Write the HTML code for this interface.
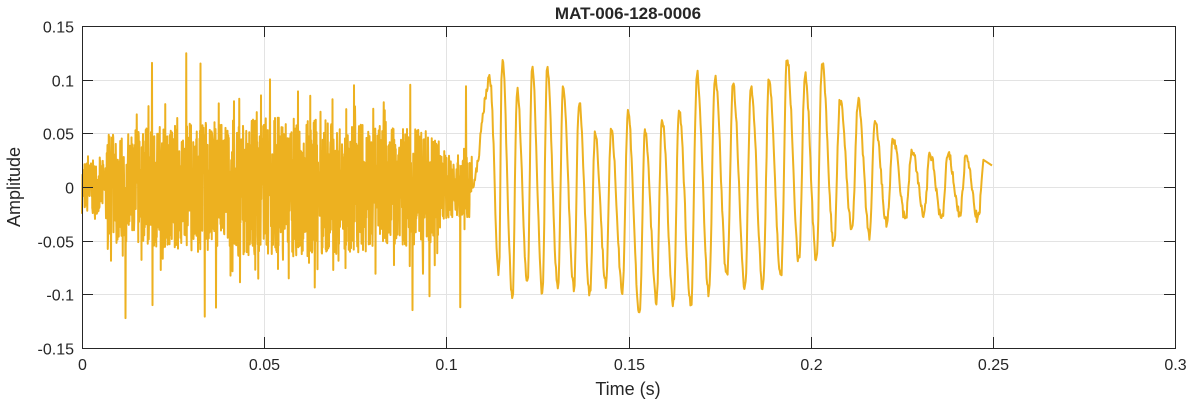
<!DOCTYPE html>
<html><head><meta charset="utf-8"><style>
body{margin:0;background:#fff;width:1188px;height:404px;overflow:hidden}
svg text{font-family:"Liberation Sans",sans-serif;fill:#262626}
</style></head><body>
<svg id="s" width="1188" height="404" xmlns="http://www.w3.org/2000/svg">
<rect x="82" y="26" width="1093" height="322" fill="#fff" stroke="none"/>
<g id="grid" stroke="#e3e3e3" stroke-width="1"></g>
<polyline id="w" fill="none" stroke="#EDB120" stroke-width="2" stroke-linejoin="round"/>
<rect x="82.5" y="26.5" width="1093" height="322" fill="none" stroke="#262626" stroke-width="1"/>
<g id="ticks" stroke="#262626"></g>
<g id="lab" font-size="16"></g>
<text x="628" y="19" font-size="17" font-weight="bold" text-anchor="middle">MAT-006-128-0006</text>
<text x="628" y="395" font-size="18" text-anchor="middle">Time (s)</text>
<text transform="translate(20,187) rotate(-90)" font-size="18" text-anchor="middle">Amplitude</text>
</svg>
<script>
var X0=82,X1=1175,Y0=187,YS=322/0.3;
function px(t){return X0+t/0.3*(X1-X0)}
function py(v){return Y0-v*YS}
var g=document.getElementById('grid'),tk=document.getElementById('ticks'),lb=document.getElementById('lab'),ns='http://www.w3.org/2000/svg';
function el(p,n,a,t){var e=document.createElementNS(ns,n);for(var k in a)e.setAttribute(k,a[k]);if(t!==undefined)e.textContent=t;p.appendChild(e)}
var xl=['0','0.05','0.1','0.15','0.2','0.25','0.3'];
for(var i=0;i<7;i++){var x=Math.round(px(i*0.05))+0.5;el(g,'line',{x1:x,x2:x,y1:26,y2:348});el(tk,'line',{x1:x,x2:x,y1:348,y2:337});el(tk,'line',{x1:x,x2:x,y1:26,y2:37});el(lb,'text',{x:x,y:370,'text-anchor':'middle'},xl[i])}
var yl=['-0.15','-0.1','-0.05','0','0.05','0.1','0.15'];
for(var i=0;i<7;i++){var y=Math.round(py(-0.15+i*0.05))+0.5;el(g,'line',{x1:82,x2:1175,y1:y,y2:y});el(tk,'line',{x1:82,x2:93,y1:y,y2:y});el(tk,'line',{x1:1175,x2:1164,y1:y,y2:y});el(lb,'text',{x:74,y:y+6,'text-anchor':'end'},yl[i])}
var seed=7;function r(){seed=(seed*16807)%2147483647;return seed/2147483647}
var pts=[];
for(var x=82;x<=472;x+=0.25){var t=(x-82)/(X1-X0)*0.3;
 var env=0.045+0.02*Math.sin(Math.PI*t/0.107);
 if(x<106)env=0.025;
 if(x>440)env=0.03;
 var v=(r()*2-1)*env;
 if(x>106&&r()<0.012)v=(r()<0.5?1:-1)*(0.07+0.06*r());
 else if(r()<0.1)v*=1.4;
 pts.push(x.toFixed(2)+','+py(v).toFixed(1))}
var peaks=[490,502,517,532,547,563,579,595,611,628,645,662,679,697,715,733,751,769,787,805,822,840,858,875,893,912,930,948,966,984];
var amps=[0.1,0.125,0.09,0.112,0.11,0.09,0.08,0.05,0.052,0.07,0.05,0.065,0.07,0.105,0.105,0.095,0.095,0.1,0.12,0.105,0.115,0.08,0.08,0.06,0.045,0.035,0.03,0.03,0.028,0.022];
var troughs=[-0.085,-0.105,-0.09,-0.1,-0.095,-0.095,-0.1,-0.09,-0.095,-0.12,-0.105,-0.11,-0.11,-0.1,-0.085,-0.095,-0.095,-0.085,-0.07,-0.07,-0.055,-0.04,-0.045,-0.035,-0.03,-0.025,-0.03,-0.025,-0.03,-0.03];
var prevX=472,prevV=0.0;
for(var k=0;k<peaks.length;k++){
 var pk=peaks[k],tr=(k+1<peaks.length)?(pk+peaks[k+1])/2+3:992;
 var a=amps[k],b=troughs[k];
 for(var x=prevX+0.6;x<=pk;x+=0.6){var f=(x-prevX)/(pk-prevX);var v=prevV+(a-prevV)*(0.5-0.5*Math.cos(Math.PI*f));v+=(r()-0.5)*0.01;pts.push(x.toFixed(1)+','+py(v).toFixed(1))}
 if(k==peaks.length-1){pts.push('992,'+py(0.02).toFixed(1));break}
 for(var x=pk+0.6;x<=tr;x+=0.6){var f=(x-pk)/(tr-pk);var v=a+(b-a)*(0.5-0.5*Math.cos(Math.PI*f));v+=(r()-0.5)*0.01;pts.push(x.toFixed(1)+','+py(v).toFixed(1))}
 prevX=tr;prevV=b}
document.getElementById('w').setAttribute('points',pts.join(' '));
</script>
</body></html>
